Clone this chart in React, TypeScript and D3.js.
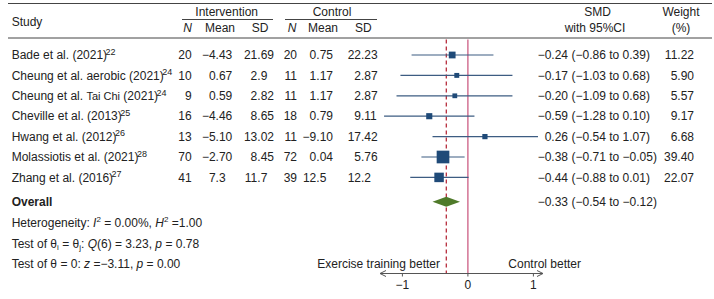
import React from "react";
import * as d3 from "d3";

const studies = [
  "Bade et al. (2021)",
  "Cheung et al. aerobic (2021)",
  "Cheung et al. Tai Chi (2021)",
  "Cheville et al. (2013)",
  "Hwang et al. (2012)",
  "Molassiotis et al. (2021)",
  "Zhang et al. (2016)",
];
const refs = ["22", "24", "24", "25", "26", "28", "27"];
const intN = ["20", "10", "9", "16", "13", "70", "41"];
const intMean = ["−4.43", "0.67", "0.59", "−4.46", "−5.10", "−2.70", "7.3"];
const intSD = ["21.69", "2.9", "2.82", "8.65", "13.02", "8.45", "11.7"];
const ctlN = ["20", "11", "11", "18", "11", "72", "39"];
const ctlMean = ["0.75", "1.17", "1.17", "0.79", "−9.10", "0.04", "12.5"];
const ctlSD = ["22.23", "2.87", "2.87", "9.11", "17.42", "5.76", "12.2"];
const smd = [-0.24, -0.17, -0.2, -0.59, 0.26, -0.38, -0.44];
const ciLo = [-0.86, -1.03, -1.09, -1.28, -0.54, -0.71, -0.88];
const ciHi = [0.39, 0.68, 0.68, 0.1, 1.07, -0.05, 0.01];
const weights = [11.22, 5.9, 5.57, 9.17, 6.68, 39.4, 22.07];
const overall = [-0.33, -0.54, -0.12];
const axisTicks = [-1, 0, 1];

const FONT = "'Liberation Sans', Arial, Helvetica, sans-serif";
const FS = 12;
const TXT = "#222";

const fmt = (v: number) => {
  const s = v.toFixed(2);
  return v < 0 ? "−" + s.slice(1) : s;
};

function Dec({ x, y, s }: { x: number; y: number; s: string }) {
  const i = s.indexOf(".");
  const a = i < 0 ? s : s.slice(0, i);
  const b = i < 0 ? "" : s.slice(i);
  return (
    <g>
      <text x={x} y={y} dy="0.35em" textAnchor="end">{a}</text>
      <text x={x} y={y} dy="0.35em" textAnchor="start">{b}</text>
    </g>
  );
}

export default function App() {
  const x = d3.scaleLinear().domain([-1, 1]).range([402.4, 533.4]);
  const rowY = d3.scaleLinear().domain([0, 1]).range([55, 75.4]);
  const size = (w: number) => 2.02 * Math.sqrt(w);
  const yOverall = 201.7;
  const yAxis = 273.5;
  const lineTop = 39.5;

  return (
    <svg
      width={714}
      height={299}
      style={{ position: "absolute", left: 0, top: 0, background: "#fff" }}
      fontFamily={FONT}
      fontSize={FS}
      fill={TXT}
    >
      {/* header lines */}
      <line x1={8} x2={712} y1={3.5} y2={3.5} stroke="#444" strokeWidth={1} />
      <line x1={182} x2={273} y1={19.5} y2={19.5} stroke="#444" strokeWidth={1} />
      <line x1={285} x2={377} y1={19.5} y2={19.5} stroke="#444" strokeWidth={1} />
      <line x1={8} x2={712} y1={38} y2={38} stroke="#444" strokeWidth={1} />

      {/* headers */}
      <text x={11.7} y={21.7} dy="0.35em">Study</text>
      <text x={226.7} y={11.7} dy="0.35em" textAnchor="middle">Intervention</text>
      <text x={332} y={11.7} dy="0.35em" textAnchor="middle">Control</text>
      <text x={187.7} y={27.7} dy="0.35em" textAnchor="middle" fontStyle="italic">N</text>
      <text x={220} y={27.7} dy="0.35em" textAnchor="middle">Mean</text>
      <text x={260} y={27.7} dy="0.35em" textAnchor="middle">SD</text>
      <text x={292} y={27.7} dy="0.35em" textAnchor="middle" fontStyle="italic">N</text>
      <text x={323} y={27.7} dy="0.35em" textAnchor="middle">Mean</text>
      <text x={363.3} y={27.7} dy="0.35em" textAnchor="middle">SD</text>
      <text x={597.7} y={11.7} dy="0.35em" textAnchor="middle">SMD</text>
      <text x={595} y={27.7} dy="0.35em" textAnchor="middle">with 95%CI</text>
      <text x={681} y={11.7} dy="0.35em" textAnchor="middle">Weight</text>
      <text x={681} y={27.7} dy="0.35em" textAnchor="middle">(%)</text>

      {/* reference lines */}
      <line x1={x(0)} x2={x(0)} y1={lineTop} y2={yAxis} stroke="#c8507a" strokeWidth={1.2} />
      <line
        x1={x(overall[0])}
        x2={x(overall[0])}
        y1={lineTop}
        y2={yAxis}
        stroke="#b01c2c"
        strokeWidth={1.2}
        strokeDasharray="4,3"
      />

      {/* rows */}
      {studies.map((s, i) => {
        const y = rowY(i);
        const parts = s.split("Tai Chi");
        const sz = size(weights[i]);
        return (
          <g key={i}>
            <text x={11.7} y={y} dy="0.35em">
              {parts.length > 1 ? (
                <>
                  {parts[0]}
                  <tspan fontSize={11}>Tai Chi</tspan>
                  {parts[1]}
                </>
              ) : (
                s
              )}
              <tspan fontSize={9} dx={-1.5} dy={-4.5}>{refs[i]}</tspan>
            </text>
            <text x={191.7} y={y} dy="0.35em" textAnchor="end">{intN[i]}</text>
            <Dec x={215.6} y={y} s={intMean[i]} />
            <Dec x={257.3} y={y} s={intSD[i]} />
            <text x={297} y={y} dy="0.35em" textAnchor="end">{ctlN[i]}</text>
            <Dec x={316.3} y={y} s={ctlMean[i]} />
            <Dec x={361} y={y} s={ctlSD[i]} />
            <line x1={x(ciLo[i])} x2={x(ciHi[i])} y1={y} y2={y} stroke="#3d5c82" strokeWidth={1.2} />
            <rect x={x(smd[i]) - sz / 2} y={y - sz / 2} width={sz} height={sz} fill="#1f4a78" />
            <text x={568} y={y} dy="0.35em" textAnchor="end">{fmt(smd[i])}</text>
            <text x={571.5} y={y} dy="0.35em">{`(${fmt(ciLo[i])} to ${fmt(ciHi[i])})`}</text>
            <text x={694} y={y} dy="0.35em" textAnchor="end">{weights[i].toFixed(2)}</text>
          </g>
        );
      })}

      {/* overall */}
      <text x={11.7} y={yOverall} dy="0.35em" fontWeight="bold">Overall</text>
      <path
        d={`M${x(overall[1])},${yOverall} L${x(overall[0])},${yOverall - 5} L${x(overall[2])},${yOverall} L${x(overall[0])},${yOverall + 5} Z`}
        fill="#4f7a2a"
      />
      <text x={568} y={yOverall} dy="0.35em" textAnchor="end">{fmt(overall[0])}</text>
      <text x={571.5} y={yOverall} dy="0.35em">{`(${fmt(overall[1])} to ${fmt(overall[2])})`}</text>

      {/* stats */}
      <text x={11.7} y={222.7} dy="0.35em">
        Heterogeneity: <tspan fontStyle="italic">I</tspan>
        <tspan fontSize={8} dy={-4.5}>2</tspan>
        <tspan dy={4.5}> = 0.00%, </tspan>
        <tspan fontStyle="italic">H</tspan>
        <tspan fontSize={8} dy={-4.5}>2</tspan>
        <tspan dy={4.5}> =1.00</tspan>
      </text>
      <text x={11.7} y={243.3} dy="0.35em">
        Test of θ<tspan fontSize={8} dy={2.5}>i</tspan>
        <tspan dy={-2.5}> = θ</tspan>
        <tspan fontSize={8} dy={2.5}>j</tspan>
        <tspan dy={-2.5}>: </tspan>
        <tspan fontStyle="italic">Q</tspan>(6) = 3.23, <tspan fontStyle="italic">p</tspan> = 0.78
      </text>
      <text x={11.7} y={263.3} dy="0.35em">
        Test of θ = 0: <tspan fontStyle="italic">z</tspan> =−3.11, <tspan fontStyle="italic">p</tspan> = 0.00
      </text>

      {/* axis */}
      <text x={440} y={263.3} dy="0.35em" textAnchor="end">Exercise training better</text>
      <text x={508.3} y={263.3} dy="0.35em">Control better</text>
      <line x1={380} x2={543} y1={yAxis} y2={yAxis} stroke="#555" strokeWidth={1} />
      <path d={`M386,${yAxis - 3} L380,${yAxis} L386,${yAxis + 3}`} fill="none" stroke="#555" strokeWidth={1} />
      <path d={`M537,${yAxis - 3} L543,${yAxis} L537,${yAxis + 3}`} fill="none" stroke="#555" strokeWidth={1} />
      {axisTicks.map((t) => (
        <g key={t}>
          <line x1={x(t)} x2={x(t)} y1={yAxis} y2={yAxis + 3} stroke="#555" strokeWidth={1} />
          <text x={x(t)} y={284.5} dy="0.35em" textAnchor="middle">
            {t < 0 ? "−" + Math.abs(t) : String(t)}
          </text>
        </g>
      ))}
    </svg>
  );
}
